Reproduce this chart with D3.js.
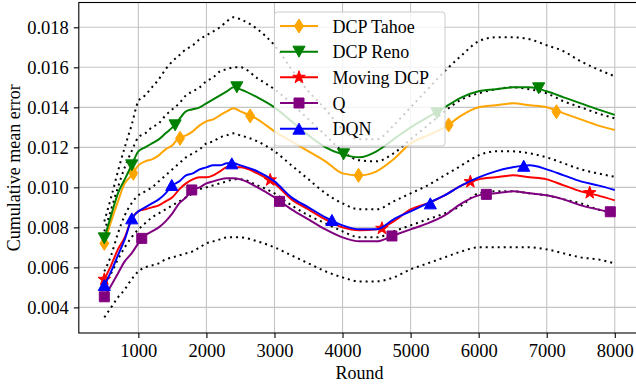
<!DOCTYPE html>
<html><head><meta charset="utf-8">
<script src="https://cdn.jsdelivr.net/npm/d3@7"></script>
<style>body{margin:0;background:#fff}svg{display:block}text{font-family:"Liberation Serif","Times New Roman",serif;fill:#000}</style>
</head><body><svg id="c" width="636" height="389"></svg>
<script>
const rounds = [500,600,700,800,900,1000,1100,1200,1300,1400,1500,1600,1700,1800,1900,2000,2100,2200,2300,2400,2500,2750,3000,3250,3500,3750,4000,4250,4500,4750,5000,5250,5500,5750,6000,6250,6500,6750,7000,7250,7500,7750,8000];
const seriesNames = ["DCP Tahoe","DCP Reno","Moving DCP","Q","DQN"];
const seriesColors = ["#ffa500","#008000","#ff0000","#800080","#0000ff"];
const tahoe = [0.0072,0.0083,0.0093,0.0102,0.0106,0.0111,0.0113,0.0114,0.0116,0.0119,0.0121,0.0125,0.0126,0.0128,0.0131,0.0133,0.0134,0.0136,0.0138,0.01395,0.0138,0.0134,0.0128,0.0123,0.0118,0.0113,0.0107,0.0106,0.0108,0.0114,0.0122,0.0126,0.0130,0.0136,0.0140,0.0141,0.0142,0.0141,0.0140,0.0137,0.0134,0.0131,0.01287];
const reno = [0.00745,0.0086,0.0097,0.0104,0.0111,0.0118,0.0120,0.0122,0.0124,0.0127,0.0130,0.0134,0.0138,0.0139,0.0140,0.0142,0.0144,0.0146,0.0148,0.0150,0.0149,0.0145,0.0140,0.0133,0.0126,0.0120,0.01165,0.0115,0.0118,0.0124,0.0130,0.0135,0.0140,0.0145,0.0148,0.0149,0.0150,0.0150,0.0148,0.0145,0.0142,0.0139,0.01362];
const movingDcp = [0.0054,0.0061,0.0069,0.0075,0.0084,0.0088,0.0089,0.0090,0.0091,0.0093,0.0095,0.0099,0.0102,0.0104,0.0105,0.0105,0.0106,0.0108,0.0110,0.0110,0.0110,0.0107,0.0102,0.0094,0.0089,0.0084,0.0080,0.00785,0.0079,0.0083,0.0089,0.0092,0.0096,0.0101,0.0104,0.0105,0.0106,0.0105,0.0104,0.0101,0.0098,0.0096,0.00935];
const qValues = [0.0045,0.0051,0.0057,0.0063,0.0067,0.0072,0.0076,0.0078,0.0080,0.0083,0.0087,0.0092,0.0095,0.0099,0.0100,0.0102,0.0103,0.0104,0.01045,0.01045,0.0104,0.0100,0.0095,0.0089,0.0084,0.0079,0.0075,0.0073,0.0073,0.0076,0.0079,0.0082,0.0086,0.0092,0.0096,0.0097,0.0098,0.0097,0.0096,0.0094,0.0091,0.0089,0.0087];
const dqn = [0.0051,0.0058,0.0066,0.0074,0.0084,0.0088,0.0090,0.0092,0.0094,0.0097,0.0101,0.0103,0.0106,0.0107,0.0109,0.0110,0.0111,0.0111,0.0112,0.0112,0.0111,0.0108,0.0103,0.0095,0.0090,0.0085,0.0081,0.0079,0.0079,0.0084,0.0088,0.0092,0.0096,0.0101,0.0105,0.0108,0.0110,0.0111,0.0109,0.0106,0.0103,0.0101,0.00987];
const bound1 = [0.0083,0.0095,0.0108,0.0120,0.0131,0.0143,0.0146,0.0150,0.0154,0.0159,0.0163,0.0166,0.0169,0.0171,0.0174,0.0176,0.0178,0.0180,0.0183,0.0185,0.0184,0.0179,0.0171,0.0159,0.0148,0.0139,0.0129,0.0124,0.0124,0.0131,0.0140,0.0149,0.0158,0.0166,0.0173,0.0175,0.0175,0.0174,0.0171,0.0168,0.0163,0.0159,0.01555];
const bound2 = [0.0078,0.0089,0.0100,0.0110,0.0118,0.0125,0.0127,0.0130,0.0132,0.0136,0.0139,0.0142,0.0146,0.0148,0.0150,0.0153,0.0155,0.0158,0.0159,0.0160,0.0160,0.01545,0.0149,0.0142,0.0134,0.0126,0.0118,0.01135,0.0113,0.0117,0.0124,0.0131,0.0138,0.0144,0.0147,0.0149,0.0150,0.0149,0.0147,0.0143,0.0140,0.0137,0.01345];
const bound3 = [0.0058,0.0066,0.0077,0.0086,0.0092,0.0096,0.0098,0.0100,0.0103,0.0106,0.0109,0.0112,0.0115,0.0117,0.0119,0.0122,0.0123,0.0125,0.0126,0.0127,0.0126,0.0123,0.0118,0.0111,0.0104,0.0097,0.0092,0.0089,0.0089,0.0093,0.0097,0.0101,0.0106,0.0111,0.0116,0.0118,0.0118,0.0117,0.0115,0.0112,0.0109,0.0107,0.01053];
const bound4 = [0.0052,0.0057,0.0064,0.0070,0.0075,0.0079,0.0082,0.0085,0.0087,0.0089,0.0091,0.0093,0.0095,0.0097,0.0099,0.0100,0.0101,0.0102,0.0103,0.0104,0.0104,0.0101,0.0097,0.0091,0.0086,0.0082,0.0078,0.0075,0.0075,0.0078,0.0081,0.0084,0.0087,0.0091,0.0097,0.0098,0.0098,0.0097,0.0096,0.0094,0.0092,0.0089,0.0087];
const bound5 = [0.0035,0.0040,0.0045,0.0049,0.0054,0.0058,0.0060,0.0061,0.0062,0.0064,0.0065,0.0066,0.0067,0.0068,0.0070,0.0072,0.0073,0.0074,0.0075,0.0075,0.0075,0.0073,0.0070,0.0066,0.0062,0.0058,0.0055,0.0053,0.0053,0.0055,0.0059,0.0062,0.0065,0.0068,0.0070,0.0070,0.0070,0.0070,0.0069,0.0067,0.0065,0.0064,0.0062];
const tahoeMarkers = [[500,0.0072],[926,0.0107],[1613,0.01245],[2643,0.01357],[4235,0.0106],[5559,0.01312],[7143,0.01378]];
const renoMarkers = [[500,0.00745],[903,0.0111],[1540,0.0131],[2447,0.0150],[4015,0.01165],[5388,0.0137],[6882,0.01495]];
const movingMarkers = [[500,0.0054],[2937,0.01037],[4579,0.00795],[5878,0.01028],[7632,0.00973]];
const qMarkers = [[500,0.00453],[1050,0.00745],[1785,0.00987],[3074,0.0093],[4726,0.00757],[6113,0.00965],[7934,0.00878]];
const dqnMarkers = [[500,0.00512],[903,0.00845],[1491,0.01012],[2373,0.0112],[3844,0.00837],[5290,0.0092],[6662,0.01108]];
const xTicks = [1000,2000,3000,4000,5000,6000,7000,8000];
const yTicks = [0.004,0.006,0.008,0.010,0.012,0.014,0.016,0.018];
const xLabel = "Round", yLabel = "Cumulative mean error";

const svg = d3.select("#c");
const x = d3.scaleLinear().domain([125, 8375]).range([78.8, 640.3]);
const y = d3.scaleLinear().domain([0.00272, 0.01924]).range([333, 2.5]);
const [L, R] = x.range(), [B, T] = y.range();

// grid
const g = svg.append("g");
g.selectAll(".gx").data(xTicks).join("line").attr("x1", d => x(d)).attr("x2", d => x(d)).attr("y1", T).attr("y2", B)
  .attr("stroke", "#c4c4c4").attr("stroke-width", 1.1);
g.selectAll(".gy").data(yTicks).join("line").attr("y1", d => y(d)).attr("y2", d => y(d)).attr("x1", L).attr("x2", R)
  .attr("stroke", "#c4c4c4").attr("stroke-width", 1.1);

const line = vals => d3.line().x((d, i) => x(rounds[i])).y(d => y(d)).curve(d3.curveMonotoneX)(vals);
const plot = svg.append("g");
[bound1, bound2, bound3, bound4, bound5].forEach(b => {
  plot.append("path").attr("d", line(b)).attr("fill", "none").attr("stroke", "#000")
    .attr("stroke-width", 2).attr("stroke-dasharray", "2,4");
});

function diamond(s) { const w = s*0.32, h = s*0.5; return `M0,${-h}L${w},0L0,${h}L${-w},0Z`; }
function triDown(s) { const w = s*0.55, h = s*0.5; return `M${-w},${-h}L${w},${-h}L0,${h}Z`; }
function triUp(s) { const w = s*0.55, h = s*0.5; return `M${-w},${h}L${w},${h}L0,${-h}Z`; }
function square(s) { const h = s*0.5; return `M${-h},${-h}H${h}V${h}H${-h}Z`; }
function star(s) { const R1 = s*0.6, r1 = R1*0.4; let p = ""; for (let i = 0; i < 10; i++) { const a = -Math.PI/2 + i*Math.PI/5; const rr = i%2 ? r1 : R1; p += (i ? "L" : "M") + (rr*Math.cos(a)).toFixed(2) + "," + (rr*Math.sin(a)).toFixed(2); } return p + "Z"; }
const shapes = [s => diamond(14), s => triDown(11), s => star(11), s => square(10), s => triUp(11)];
const allSeries = [tahoe, reno, movingDcp, qValues, dqn];
const allMarkers = [tahoeMarkers, renoMarkers, movingMarkers, qMarkers, dqnMarkers];

allSeries.forEach((vals, k) => {
  plot.append("path").attr("d", line(vals)).attr("fill", "none").attr("stroke", seriesColors[k])
    .attr("stroke-width", 2).attr("stroke-linejoin", "round");
  plot.selectAll(null).data(allMarkers[k]).join("path")
    .attr("d", shapes[k]()).attr("transform", d => `translate(${x(d[0])},${y(d[1])})`)
    .attr("fill", seriesColors[k]).attr("stroke", seriesColors[k]).attr("stroke-width", 1);
});

// frame
svg.append("rect").attr("x", L).attr("y", T).attr("width", R - L).attr("height", B - T)
  .attr("fill", "none").attr("stroke", "#000").attr("stroke-width", 1.1);

// axes
const xAxis = svg.append("g").attr("transform", `translate(0,${B})`)
  .call(d3.axisBottom(x).tickValues(xTicks).tickSize(5).tickPadding(6).tickFormat(d3.format("d")));
const yAxis = svg.append("g").attr("transform", `translate(${L},0)`)
  .call(d3.axisLeft(y).tickValues(yTicks).tickSize(5).tickPadding(5).tickFormat(d3.format(".3f")));
[xAxis, yAxis].forEach(a => {
  a.select(".domain").remove();
  a.selectAll(".tick line").attr("stroke", "#000").attr("stroke-width", 1.1);
  a.selectAll(".tick text").attr("font-family", '"Liberation Serif","Times New Roman",serif').attr("font-size", 18.5).attr("fill", "#000");
});

svg.append("text").attr("x", (L + R) / 2).attr("y", 379).attr("text-anchor", "middle").attr("font-size", 18).text(xLabel);
svg.append("text").attr("transform", `translate(20,${(T + B) / 2}) rotate(-90)`).attr("text-anchor", "middle").attr("font-size", 18).text(yLabel);

// legend
const lg = svg.append("g");
lg.append("rect").attr("x", 274.5).attr("y", 12).attr("width", 170.5).attr("height", 134).attr("rx", 3)
  .attr("fill", "#fff").attr("fill-opacity", 0.8).attr("stroke", "#cccccc").attr("stroke-width", 1);
seriesNames.forEach((name, k) => {
  const cy = 26 + k * 25.67;
  lg.append("line").attr("x1", 280).attr("x2", 318).attr("y1", cy).attr("y2", cy).attr("stroke", seriesColors[k]).attr("stroke-width", 2);
  lg.append("path").attr("d", shapes[k]()).attr("transform", `translate(299,${cy})`).attr("fill", seriesColors[k]).attr("stroke", seriesColors[k]);
  lg.append("text").attr("x", 332.5).attr("y", cy + 6.5).attr("font-size", 18).text(name);
});
</script></body></html>
